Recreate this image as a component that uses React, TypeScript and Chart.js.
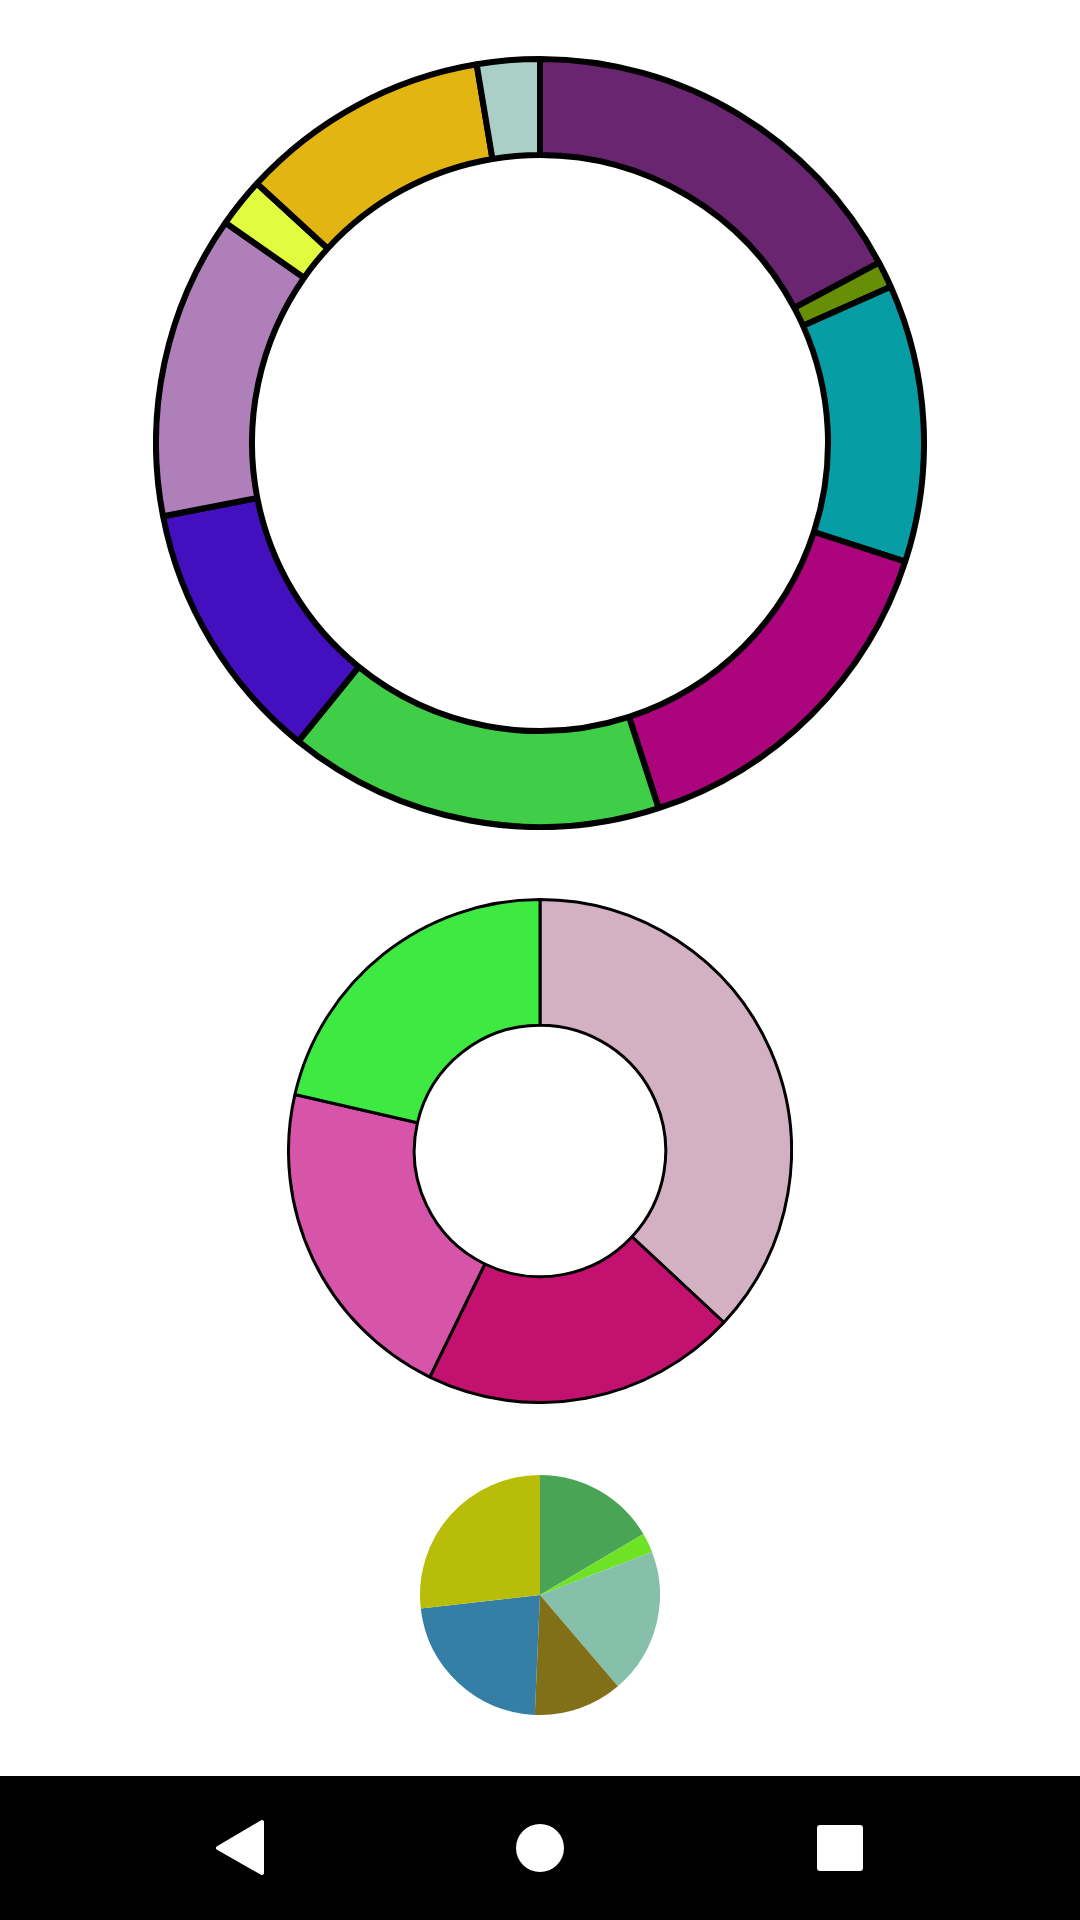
import React, { useEffect, useRef } from "react";
import { Chart, registerables } from "chart.js";

Chart.register(...registerables);

// Big doughnut
const bigLabels = ["A", "B", "C", "D", "E", "F", "G", "H", "I", "J"];
const bigValues = [62, 4, 42, 54, 57, 40, 46, 7.5, 38, 9.5];
const bigColors = [
  "#6A2570", "#678F05", "#069EA4", "#AC047C", "#40CE48",
  "#440FBE", "#AF7FB9", "#E1FC3F", "#E2B513", "#A9CFC6",
];

// Medium doughnut
const midLabels = ["A", "B", "C", "D"];
const midValues = [133, 73, 77, 77];
const midColors = ["#D4B0C3", "#C3116F", "#D755A8", "#3EEA42"];

// Small pie
const smallLabels = ["A", "B", "C", "D", "E", "F"];
const smallValues = [59.5, 9.5, 70.5, 43, 81, 96.5];
const smallColors = ["#4AA456", "#6EE225", "#86C0AB", "#827018", "#357EA5", "#B8BD0A"];

type RingProps = {
  type: "doughnut" | "pie";
  labels: string[];
  values: number[];
  colors: string[];
  border: number;
  cutout: string;
  size: number;
  left: number;
  top: number;
};

function Ring({ type, labels, values, colors, border, cutout, size, left, top }: RingProps) {
  const ref = useRef<HTMLCanvasElement | null>(null);
  useEffect(() => {
    if (!ref.current) return;
    const chart = new Chart(ref.current, {
      type,
      data: {
        labels,
        datasets: [
          {
            data: values,
            backgroundColor: colors,
            borderColor: "#000000",
            borderWidth: border,
            hoverBorderWidth: border,
            hoverOffset: 0,
            offset: 0,
          },
        ],
      },
      options: {
        responsive: false,
        animation: false,
        devicePixelRatio: 1,
        cutout,
        layout: { padding: 0 },
        plugins: {
          legend: { display: false },
          tooltip: { enabled: false },
          title: { display: false },
        },
        events: [],
      },
    });
    return () => chart.destroy();
  }, []);
  return (
    <canvas
      ref={ref}
      width={size}
      height={size}
      style={{ position: "absolute", left, top, width: size, height: size }}
    />
  );
}

export default function App() {
  return (
    <div
      style={{
        position: "absolute",
        left: 0,
        top: 0,
        width: 1080,
        height: 1920,
        background: "#ffffff",
        overflow: "hidden",
      }}
    >
      <Ring type="doughnut" labels={bigLabels} values={bigValues} colors={bigColors}
        border={6} cutout="75%" size={774} left={153} top={56} />
      <Ring type="doughnut" labels={midLabels} values={midValues} colors={midColors}
        border={3} cutout="50%" size={506} left={287} top={898} />
      <Ring type="pie" labels={smallLabels} values={smallValues} colors={smallColors}
        border={0} cutout="0%" size={240} left={420} top={1475} />
      <svg
        width={1080}
        height={144}
        style={{ position: "absolute", left: 0, top: 1776, display: "block" }}
      >
        <rect x={0} y={0} width={1080} height={144} fill="#000000" />
        <path
          d="M262 46 L262 97 L218 72 Z"
          fill="#ffffff"
          stroke="#ffffff"
          strokeWidth={4}
          strokeLinejoin="round"
        />
        <circle cx={540} cy={72} r={24} fill="#ffffff" />
        <rect x={817} y={49} width={46} height={46} rx={3} fill="#ffffff" />
      </svg>
    </div>
  );
}
